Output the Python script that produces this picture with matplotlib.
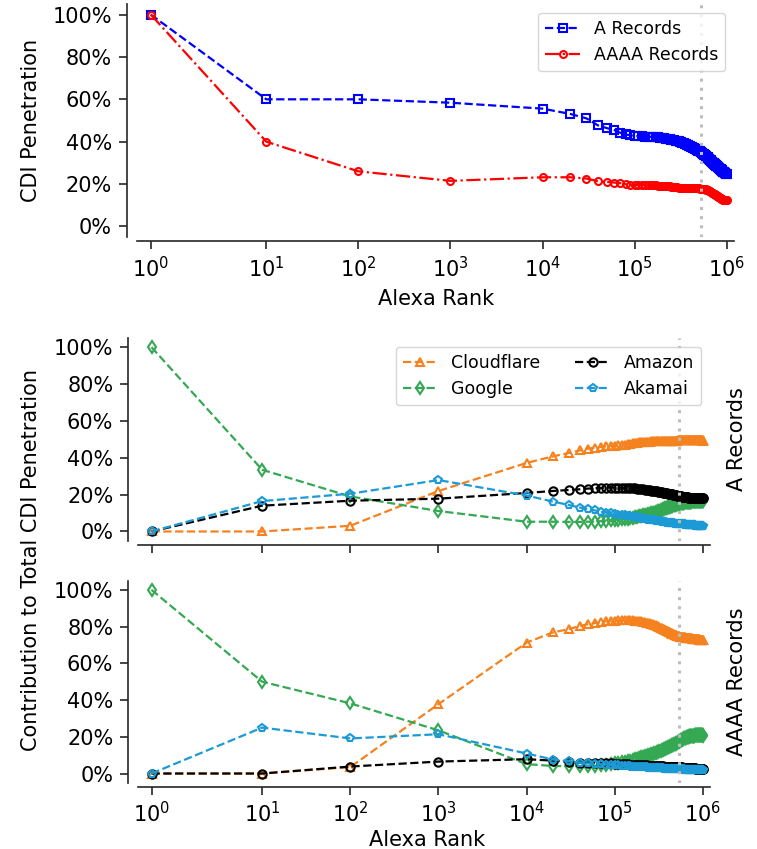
import matplotlib
matplotlib.use("Agg")
import matplotlib.pyplot as plt
from matplotlib.ticker import PercentFormatter, NullLocator

# Alexa ranks: 1, 10, 100, 1000, then every 10k up to 1M
ranks = [1, 10, 100, 1000] + list(range(10000, 1000001, 10000))
cutoff_rank = 530000

# top panel: CDI penetration (%)
a_records = [100.0, 60.0, 60.0, 58.4,
             55.6, 53.1, 51.0, 47.7, 46.4, 45.5, 44.2, 43.4, 43.0, 42.7,
             42.6, 42.5, 42.4, 42.4, 42.3, 42.2, 42.1, 42.0, 41.9, 41.7,
             41.6, 41.5, 41.3, 41.2, 41.0, 40.9, 40.7, 40.5, 40.3, 40.1,
             39.9, 39.7, 39.5, 39.3, 39.1, 38.9, 38.6, 38.4, 38.1, 37.8,
             37.5, 37.3, 37.0, 36.8, 36.6, 36.4, 36.2, 36.0, 35.8, 35.6,
             35.4, 35.1, 34.9, 34.6, 34.4, 34.1, 33.9, 33.6, 33.4, 33.1,
             32.8, 32.6, 32.3, 32.0, 31.7, 31.4, 31.2, 30.9, 30.6, 30.4,
             30.1, 29.8, 29.6, 29.3, 29.1, 28.9, 28.7, 28.5, 28.3, 28.1,
             27.9, 27.7, 27.5, 27.3, 27.1, 26.9, 26.7, 26.5, 26.3, 26.1,
             25.9, 25.8, 25.6, 25.5, 25.3, 25.2, 25.0, 24.9, 24.7, 24.6]
aaaa_records = [100.0, 40.0, 26.0, 21.5,
                23.2, 23.2, 22.6, 21.3, 21.0, 20.7, 20.4, 19.9, 19.6, 19.5,
                19.5, 19.5, 19.5, 19.5, 19.5, 19.4, 19.4, 19.3, 19.3, 19.2,
                19.1, 19.0, 19.0, 18.9, 18.8, 18.7, 18.6, 18.5, 18.4, 18.3,
                18.3, 18.3, 18.2, 18.2, 18.2, 18.2, 18.2, 18.1, 18.1, 18.1,
                18.1, 18.1, 18.0, 18.0, 18.0, 18.0, 17.9, 17.9, 17.9, 17.9,
                17.8, 17.8, 17.8, 17.7, 17.7, 17.6, 17.6, 17.5, 17.5, 17.4,
                17.3, 17.1, 17.0, 16.8, 16.6, 16.5, 16.3, 16.1, 15.9, 15.8,
                15.6, 15.4, 15.3, 15.1, 14.9, 14.8, 14.6, 14.5, 14.3, 14.2,
                14.0, 13.9, 13.7, 13.6, 13.4, 13.3, 13.1, 13.0, 12.9, 12.8,
                12.7, 12.6, 12.5, 12.5, 12.4, 12.4, 12.3, 12.3, 12.3, 12.3]

# middle panel: contribution per provider, A records (%)
cloudflare_a = [0.0, 0.0, 3.1, 22.0,
                37.2, 40.8, 42.6, 44.0, 45.0, 45.5, 45.9, 46.2, 46.4, 46.6,
                46.8, 47.0, 47.2, 47.4, 47.6, 47.8, 48.0, 48.1, 48.3, 48.4,
                48.5, 48.6, 48.7, 48.8, 48.8, 48.9, 48.9, 49.0, 49.0, 49.0,
                49.0, 49.1, 49.1, 49.1, 49.1, 49.2, 49.2, 49.2, 49.2, 49.2,
                49.2, 49.3, 49.3, 49.3, 49.3, 49.3, 49.3, 49.3, 49.3, 49.3,
                49.3, 49.4, 49.4, 49.4, 49.4, 49.4, 49.4, 49.5, 49.5, 49.5,
                49.5, 49.5, 49.5, 49.6, 49.6, 49.6, 49.6, 49.6, 49.7, 49.7,
                49.7, 49.7, 49.7, 49.7, 49.8, 49.8, 49.8, 49.8, 49.8, 49.8,
                49.8, 49.8, 49.8, 49.8, 49.8, 49.8, 49.7, 49.7, 49.7, 49.7,
                49.6, 49.6, 49.6, 49.5, 49.5, 49.5, 49.4, 49.4, 49.4, 49.3]
google_a = [100.0, 33.5, 19.0, 11.1,
            5.3, 5.3, 5.2, 5.2, 5.3, 5.4, 5.6, 5.8, 6.0, 6.2,
            6.4, 6.6, 6.8, 7.0, 7.2, 7.5, 7.7, 8.0, 8.2, 8.5,
            8.7, 9.0, 9.2, 9.4, 9.7, 9.9, 10.1, 10.3, 10.5, 10.7,
            11.0, 11.2, 11.5, 11.7, 12.0, 12.2, 12.5, 12.7, 12.9, 13.1,
            13.3, 13.5, 13.7, 13.9, 14.0, 14.2, 14.3, 14.5, 14.6, 14.7,
            14.8, 14.9, 15.0, 15.1, 15.2, 15.3, 15.4, 15.5, 15.6, 15.7,
            15.7, 15.8, 15.8, 15.9, 15.9, 16.0, 16.0, 16.1, 16.1, 16.1,
            16.2, 16.2, 16.2, 16.2, 16.3, 16.3, 16.3, 16.3, 16.3, 16.3,
            16.4, 16.4, 16.4, 16.4, 16.4, 16.4, 16.4, 16.4, 16.4, 16.4,
            16.4, 16.4, 16.4, 16.4, 16.4, 16.4, 16.4, 16.4, 16.4, 16.4]
amazon_a = [0.0, 14.0, 16.7, 17.8,
            20.9, 22.0, 22.5, 22.9, 23.3, 23.5, 23.6, 23.7, 23.8, 23.8,
            23.8, 23.8, 23.7, 23.7, 23.6, 23.5, 23.4, 23.3, 23.1, 23.0,
            22.9, 22.7, 22.6, 22.5, 22.4, 22.2, 22.1, 22.0, 21.8, 21.7,
            21.6, 21.5, 21.3, 21.2, 21.1, 21.0, 20.9, 20.8, 20.7, 20.6,
            20.5, 20.4, 20.3, 20.2, 20.1, 20.0, 19.9, 19.8, 19.7, 19.6,
            19.5, 19.4, 19.3, 19.2, 19.1, 19.0, 19.0, 18.9, 18.8, 18.8,
            18.7, 18.7, 18.6, 18.6, 18.5, 18.5, 18.5, 18.4, 18.4, 18.4,
            18.4, 18.4, 18.3, 18.3, 18.3, 18.3, 18.3, 18.3, 18.3, 18.3,
            18.2, 18.2, 18.2, 18.2, 18.2, 18.2, 18.2, 18.2, 18.2, 18.2,
            18.2, 18.2, 18.2, 18.2, 18.2, 18.2, 18.2, 18.2, 18.2, 18.2]
akamai_a = [0.0, 16.5, 20.5, 27.9,
            19.5, 16.2, 14.4, 13.0, 12.1, 11.4, 10.8, 10.3, 9.9, 9.5,
            9.2, 8.9, 8.7, 8.4, 8.2, 8.0, 7.8, 7.6, 7.4, 7.1,
            7.0, 6.8, 6.7, 6.5, 6.4, 6.3, 6.1, 6.0, 5.9, 5.8,
            5.7, 5.6, 5.5, 5.3, 5.2, 5.1, 5.0, 4.9, 4.8, 4.7,
            4.7, 4.6, 4.6, 4.5, 4.5, 4.4, 4.4, 4.3, 4.3, 4.2,
            4.2, 4.1, 4.1, 4.0, 4.0, 4.0, 3.9, 3.9, 3.9, 3.8,
            3.8, 3.8, 3.7, 3.7, 3.7, 3.6, 3.6, 3.6, 3.5, 3.5,
            3.5, 3.5, 3.4, 3.4, 3.4, 3.4, 3.3, 3.3, 3.3, 3.3,
            3.3, 3.2, 3.2, 3.2, 3.2, 3.2, 3.2, 3.1, 3.1, 3.1,
            3.1, 3.1, 3.1, 3.1, 3.1, 3.0, 3.0, 3.0, 3.0, 3.0]

# bottom panel: contribution per provider, AAAA records (%)
cloudflare_aaaa = [0.0, 0.0, 3.5, 37.8,
                   71.3, 76.9, 78.6, 80.3, 81.4, 82.0, 82.5, 82.9, 83.1, 83.3,
                   83.4, 83.5, 83.5, 83.5, 83.5, 83.4, 83.3, 83.2, 83.0, 82.8,
                   82.6, 82.4, 82.2, 82.0, 81.8, 81.5, 81.3, 81.0, 80.7, 80.4,
                   80.1, 79.8, 79.5, 79.2, 78.9, 78.6, 78.3, 78.0, 77.7, 77.4,
                   77.1, 76.9, 76.6, 76.4, 76.2, 76.0, 75.8, 75.6, 75.4, 75.2,
                   75.0, 74.9, 74.8, 74.7, 74.6, 74.5, 74.4, 74.3, 74.3, 74.2,
                   74.2, 74.1, 74.1, 74.0, 74.0, 74.0, 73.9, 73.9, 73.8, 73.8,
                   73.8, 73.7, 73.7, 73.6, 73.6, 73.5, 73.5, 73.4, 73.4, 73.3,
                   73.3, 73.3, 73.2, 73.2, 73.2, 73.1, 73.1, 73.1, 73.0, 73.0,
                   73.0, 72.9, 72.9, 72.9, 72.8, 72.8, 72.8, 72.7, 72.7, 72.7]
google_aaaa = [100.0, 50.0, 38.2, 23.5,
               5.1, 4.1, 4.0, 4.0, 4.0, 4.2, 4.5, 4.8, 5.1, 5.5,
               5.8, 6.1, 6.4, 6.7, 7.0, 7.3, 7.7, 8.0, 8.4, 8.8,
               9.1, 9.4, 9.6, 9.9, 10.2, 10.5, 10.8, 11.1, 11.3, 11.6,
               11.9, 12.2, 12.5, 12.8, 13.0, 13.3, 13.6, 13.8, 14.1, 14.3,
               14.6, 14.8, 15.0, 15.3, 15.5, 15.7, 15.9, 16.1, 16.3, 16.5,
               16.8, 17.0, 17.3, 17.5, 17.8, 18.0, 18.3, 18.5, 18.7, 18.9,
               19.1, 19.3, 19.4, 19.6, 19.7, 19.8, 19.9, 20.0, 20.1, 20.2,
               20.3, 20.4, 20.4, 20.5, 20.5, 20.6, 20.6, 20.7, 20.7, 20.7,
               20.8, 20.8, 20.8, 20.8, 20.9, 20.9, 20.9, 20.9, 20.9, 20.9,
               20.9, 20.9, 20.9, 20.9, 20.9, 20.9, 20.8, 20.8, 20.8, 20.7]
amazon_aaaa = [0.0, 0.0, 3.8, 6.5,
               7.8, 7.0, 6.3, 6.0, 5.8, 5.7, 5.6, 5.5, 5.5, 5.4,
               5.3, 5.2, 5.1, 5.0, 4.9, 4.8, 4.7, 4.7, 4.6, 4.5,
               4.5, 4.4, 4.4, 4.3, 4.3, 4.2, 4.2, 4.1, 4.1, 4.0,
               4.0, 4.0, 3.9, 3.9, 3.9, 3.8, 3.8, 3.8, 3.7, 3.7,
               3.7, 3.7, 3.6, 3.6, 3.6, 3.6, 3.5, 3.5, 3.5, 3.5,
               3.4, 3.4, 3.4, 3.4, 3.3, 3.3, 3.3, 3.3, 3.2, 3.2,
               3.2, 3.2, 3.1, 3.1, 3.1, 3.1, 3.0, 3.0, 3.0, 3.0,
               3.0, 2.9, 2.9, 2.9, 2.9, 2.9, 2.8, 2.8, 2.8, 2.8,
               2.8, 2.8, 2.7, 2.7, 2.7, 2.7, 2.7, 2.7, 2.7, 2.7,
               2.7, 2.7, 2.7, 2.7, 2.7, 2.7, 2.7, 2.7, 2.7, 2.7]
akamai_aaaa = [0.0, 25.0, 19.1, 21.4,
               10.9, 7.6, 6.6, 6.0, 5.5, 5.2, 5.0, 4.8, 4.6, 4.5,
               4.4, 4.2, 4.1, 4.0, 3.9, 3.8, 3.7, 3.6, 3.5, 3.4,
               3.4, 3.3, 3.3, 3.2, 3.2, 3.1, 3.1, 3.0, 3.0, 2.9,
               2.9, 2.9, 2.8, 2.8, 2.8, 2.7, 2.7, 2.7, 2.6, 2.6,
               2.6, 2.6, 2.5, 2.5, 2.5, 2.5, 2.4, 2.4, 2.4, 2.4,
               2.4, 2.3, 2.3, 2.3, 2.3, 2.3, 2.2, 2.2, 2.2, 2.2,
               2.2, 2.1, 2.1, 2.1, 2.1, 2.1, 2.1, 2.0, 2.0, 2.0,
               2.0, 2.0, 2.0, 1.9, 1.9, 1.9, 1.9, 1.9, 1.9, 1.9,
               1.9, 1.8, 1.8, 1.8, 1.8, 1.8, 1.8, 1.8, 1.8, 1.8,
               1.8, 1.8, 1.8, 1.8, 1.8, 1.8, 1.8, 1.8, 1.8, 1.8]

providers = ["Cloudflare", "Google", "Amazon", "Akamai"]
colors = {"Cloudflare": "#f5821f", "Google": "#34a853",
          "Amazon": "black", "Akamai": "#1b9ad6"}
markers = {"Cloudflare": "^", "Google": "d", "Amazon": "o", "Akamai": "p"}
FS = 15


def style_axis(ax, show_xlabels=True):
    ax.set_xscale("symlog", linthresh=2)
    ax.set_xlim(0.73, 1.2e6)
    ax.set_ylim(-5, 105)
    ax.set_xticks([1, 10, 100, 1e3, 1e4, 1e5, 1e6])
    ax.xaxis.set_minor_locator(NullLocator())
    ax.set_yticks([0, 20, 40, 60, 80, 100])
    ax.yaxis.set_major_formatter(PercentFormatter(100, decimals=0))
    for side in ["top", "right"]:
        ax.spines[side].set_visible(False)
    ax.spines["left"].set_position(("outward", 7.5))
    ax.spines["bottom"].set_position(("outward", 3))
    for side in ["left", "bottom"]:
        ax.spines[side].set_linewidth(1.2)
        ax.spines[side].set_color("0.15")
    ax.tick_params(length=5.5, width=1.2, color="0.15", labelsize=FS, pad=5)
    if not show_xlabels:
        ax.tick_params(axis="x", labelbottom=False)
    ax.axvline(cutoff_rank, color="#bdbdbd", lw=2.2, ls=(0, (1, 2)))


fig = plt.figure(figsize=(7.57, 8.49), dpi=100)
W, H = 757, 849
ax_top = fig.add_axes([137 / W, 1 - 237 / H, 597 / W, 233 / H])
ax_mid = fig.add_axes([138.3 / W, 1 - 540.7 / H, 571.7 / W, 202.7 / H])
ax_bot = fig.add_axes([138.3 / W, 1 - 782.7 / H, 571.7 / W, 202 / H])

ax_top.plot(ranks, a_records, ls="--", color="blue", marker="s", ms=5.5,
            mfc="none", mew=1.5, lw=1.6, label="A Records")
ax_top.plot(ranks, aaaa_records, ls="-.", color="red", marker="o", ms=5,
            mfc="none", mew=1.5, lw=1.6, label="AAAA Records")
style_axis(ax_top)
ax_top.legend(loc="upper right", fontsize=12.5)

series_a = {"Cloudflare": cloudflare_a, "Google": google_a,
            "Amazon": amazon_a, "Akamai": akamai_a}
series_aaaa = {"Cloudflare": cloudflare_aaaa, "Google": google_aaaa,
               "Amazon": amazon_aaaa, "Akamai": akamai_aaaa}

for ax, series in [(ax_mid, series_a), (ax_bot, series_aaaa)]:
    for p in providers:
        ax.plot(ranks, series[p], ls="--", color=colors[p], marker=markers[p],
                ms=6, mfc="none", mew=1.5, lw=1.6, label=p)

style_axis(ax_mid, show_xlabels=False)
style_axis(ax_bot)
ax_mid.legend(loc="upper right", ncol=2, fontsize=12.5)

fig.text(31 / W, 1 - 120.5 / H, "CDI Penetration", rotation=90,
         ha="center", va="center", fontsize=FS)
fig.text(436 / W, 1 - 305 / H, "Alexa Rank", ha="center", va="baseline",
         fontsize=FS)
fig.text(31 / W, 1 - 560 / H, "Contribution to Total CDI Penetration",
         rotation=90, ha="center", va="center", fontsize=FS)
fig.text(737 / W, 1 - 439.4 / H, "A Records", rotation=90,
         ha="center", va="center", fontsize=FS)
fig.text(737 / W, 1 - 681.7 / H, "AAAA Records", rotation=90,
         ha="center", va="center", fontsize=FS)
fig.text(427 / W, 1 - 846 / H, "Alexa Rank", ha="center", va="baseline",
         fontsize=FS)

fig.savefig("out.png", dpi=100)
